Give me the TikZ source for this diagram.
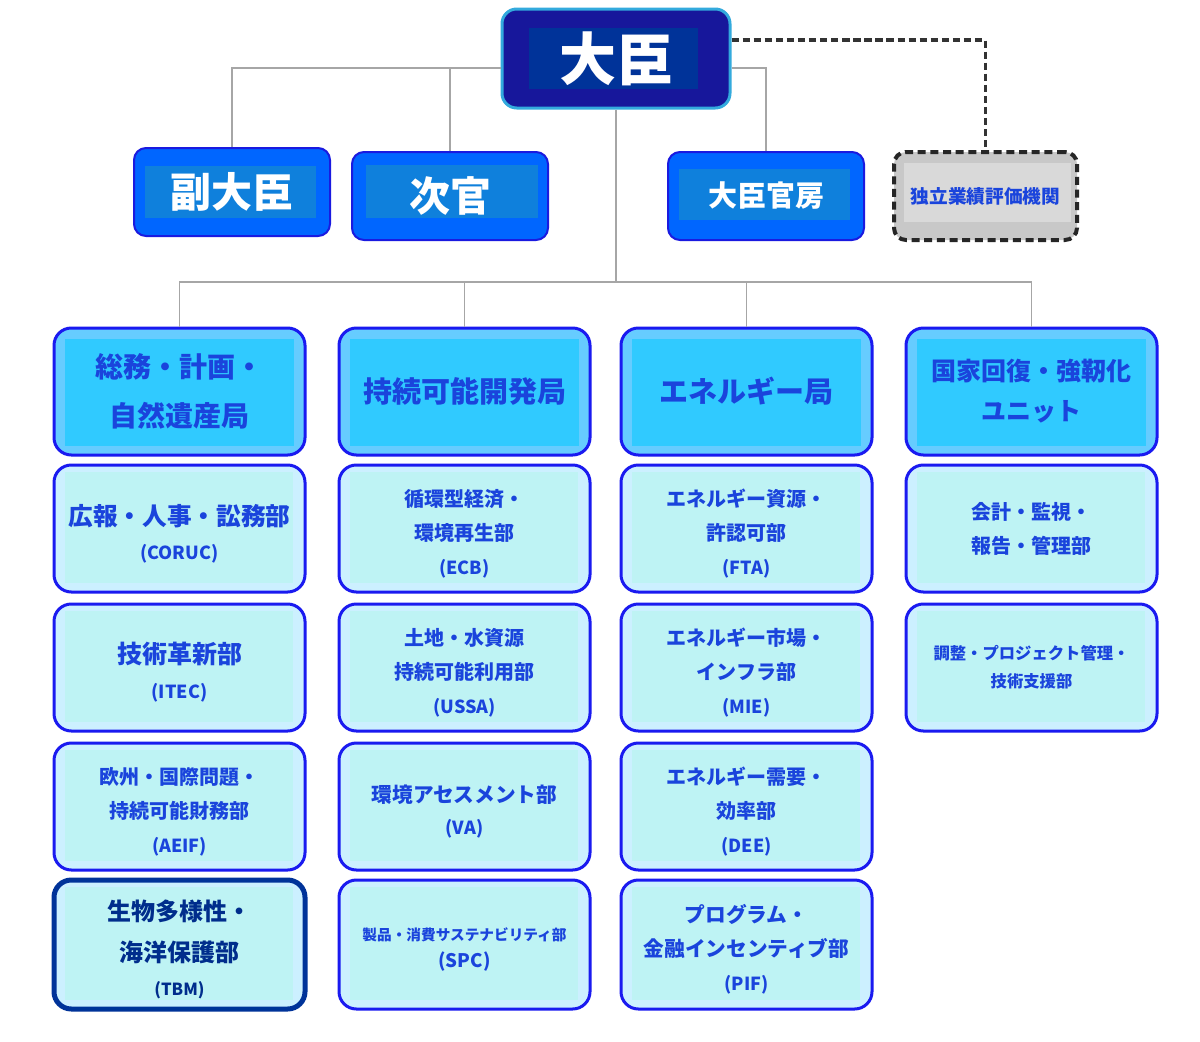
\documentclass[tikz,border=0pt]{standalone}
\usepackage{fontspec}
\newfontfamily\jp{Noto Sans CJK JP}
\definecolor{lineg}{HTML}{A6A6A6}
\definecolor{dashg}{HTML}{333333}
\definecolor{mnfill}{HTML}{17179B}
\definecolor{mninner}{HTML}{003399}
\definecolor{mnline}{HTML}{33AADD}
\definecolor{dfill}{HTML}{0066FF}
\definecolor{dinner}{HTML}{0F80DC}
\definecolor{dline}{HTML}{1A1AE0}
\definecolor{gout}{HTML}{C8C8C8}
\definecolor{gin}{HTML}{D9D9D9}
\definecolor{gline}{HTML}{262626}
\definecolor{hout}{HTML}{66CCFF}
\definecolor{hin}{HTML}{30CAFF}
\definecolor{bline}{HTML}{1A1AF0}
\definecolor{chout}{HTML}{CCF0FF}
\definecolor{chin}{HTML}{BEF3F4}
\definecolor{ctext}{HTML}{1A44DC}
\definecolor{navy}{HTML}{003399}
\definecolor{navytext}{HTML}{002D8C}
\newcommand{\ab}[1]{{\fontsize{13.5}{25.5}\selectfont #1}}
\newcommand{\dn}{\rule{0pt}{\dimexpr 0.88em+7pt\relax}}
\tikzset{
  conn/.style={draw=lineg, line width=1.1pt},
  dconn/.style={draw=dashg, line width=2.7pt, dash pattern=on 5.5pt off 2.8pt},
  inset/.style n args={5}{path picture={\fill[#1, sharp corners] ([xshift=#2,yshift=-#3]path picture bounding box.north west) rectangle ([xshift=-#4,yshift=#5]path picture bounding box.south east);}},
  base/.style={inner sep=0pt, align=center},
  minister/.style={base, rounded corners=11pt, fill=mnfill, draw=mnline, line width=2.25pt,
    minimum width=171pt, minimum height=74.25pt, text=white,
    font={\jp\bfseries\fontsize{42.75}{45}\selectfont}},
  deputy/.style={base, rounded corners=9pt, fill=dfill, draw=dline, line width=1.5pt,
    minimum width=147pt, minimum height=66pt, text=white},
  indep/.style={base, rounded corners=9pt, fill=gout, draw=gline, line width=3pt,
    dash pattern=on 6pt off 3.5pt, minimum width=137.25pt, minimum height=66pt, text=ctext,
    font={\jp\bfseries\fontsize{14}{16}\selectfont}, inset={gin}{7.5pt}{8pt}{4.5pt}{13.5pt}},
  head/.style={base, rounded corners=13pt, fill=hout, draw=bline, line width=2.25pt,
    minimum width=188.25pt, minimum height=95.25pt, text=ctext, inset={hin}{8pt}{8pt}{8pt}{7pt}},
  unit/.style={base, rounded corners=13pt, fill=chout, draw=bline, line width=2.25pt,
    minimum width=188.25pt, minimum height=95.25pt, text=ctext, inset={chin}{8pt}{5pt}{9pt}{7pt},
    font={\jp\bfseries\fontsize{15}{25.5}\selectfont}},
  lastunit/.style={unit, minimum height=96.75pt},
}
\begin{document}
\begin{tikzpicture}[x=0.75pt, y=-0.75pt]
\useasboundingbox[fill=white] (0,0) rectangle (1200,1042);

% top level
\node[minister, inset={mninner}{20pt}{14pt}{24pt}{14pt}] (mn) at (616,58.5) {大臣};
\node[deputy, inset={dinner}{8pt}{13.5pt}{10.5pt}{13.5pt}, font={\jp\bfseries\fontsize{30.75}{32}\selectfont}] (d1) at (232,192) {副大臣};
\node[deputy, inset={dinner}{10.5pt}{10pt}{7.5pt}{16.5pt}, font={\jp\bfseries\fontsize{30.75}{32}\selectfont}] (d2) at (450,196) {次官};
\node[deputy, inset={dinner}{8pt}{12.75pt}{10.5pt}{15pt}, font={\jp\bfseries\fontsize{21.75}{24}\selectfont}] (d3) at (766,196) {大臣官房};
\node[indep] (d4) at (985.5,196) {独立業績評価機関};

% column heads
\node[head, font={\jp\bfseries\fontsize{21}{36.75}\selectfont}] (h1) at (179.5,391.5) {総務・計画・\\自然遺産局};
\node[head, font={\jp\bfseries\fontsize{21.75}{24}\selectfont}] (h2) at (464.5,391.5) {持続可能開発局};
\node[head, font={\jp\bfseries\fontsize{21.75}{24}\selectfont}] (h3) at (746.5,391.5) {エネルギー局};
\node[head, font={\jp\bfseries\fontsize{18.75}{30}\selectfont}] (h4) at (1031.5,391.5) {国家回復・強靭化\\ユニット};

% column 1
\node[unit, font={\jp\bfseries\fontsize{18.5}{25.5}\selectfont}] (a1) at (179.5,528.5) {\dn 広報・人事・訟務部\\\ab{(CORUC)}};
\node[unit, font={\jp\bfseries\fontsize{18.75}{26}\selectfont}] (a2) at (179.5,667.5) {\dn 技術革新部\\\ab{(ITEC)}};
\node[unit] (a3) at (179.5,806.5) {\dn 欧州・国際問題・\\持続可能財務部\\\ab{(AEIF)}};
\node[lastunit, draw=navy, line width=3.75pt, text=navytext, font={\jp\bfseries\fontsize{18}{30.75}\selectfont}] (a4) at (179.5,944.5) {\dn 生物多様性・\\海洋保護部\\[-5pt]{\fontsize{12.5}{25}\selectfont (TBM)}};

% column 2
\node[unit] (b1) at (464.5,528.5) {\dn 循環型経済・\\環境再生部\\\ab{(ECB)}};
\node[unit] (b2) at (464.5,667.5) {\dn 土地・水資源\\持続可能利用部\\\ab{(USSA)}};
\node[unit, font={\jp\bfseries\fontsize{15.5}{24}\selectfont}] (b3) at (464.5,806.5) {\dn 環境アセスメント部\\\ab{(VA)}};
\node[lastunit, font={\jp\bfseries\fontsize{11}{20}\selectfont}] (b4) at (464.5,944.5) {\dn 製品・消費サステナビリティ部\\{\fontsize{14}{20}\selectfont (SPC)}};

% column 3
\node[unit] (c1) at (746.5,528.5) {\dn エネルギー資源・\\許認可部\\\ab{(FTA)}};
\node[unit] (c2) at (746.5,667.5) {\dn エネルギー市場・\\インフラ部\\\ab{(MIE)}};
\node[unit] (c3) at (746.5,806.5) {\dn エネルギー需要・\\効率部\\\ab{(DEE)}};
\node[lastunit, font={\jp\bfseries\fontsize{15.5}{25.5}\selectfont}] (c4) at (746.5,944.5) {\dn プログラム・\\金融インセンティブ部\\\ab{(PIF)}};

% column 4
\node[unit] (e1) at (1031.5,528.5) {会計・監視・\\報告・管理部};
\node[unit, font={\jp\bfseries\fontsize{12.25}{21}\selectfont}] (e2) at (1031.5,667.5) {調整・プロジェクト管理・\\技術支援部};

% connectors
\coordinate (mL) at ([yshift=-7.1pt]mn.west);
\coordinate (bus) at (616,282);
\draw[conn] (mL) -| (d1.north);
\draw[conn] (d2.north) -- (d2.north |- mL);
\draw[conn] ([yshift=-7.1pt]mn.east) -| (d3.north);
\draw[dconn] ([yshift=13.9pt]mn.east) -| (d4.north);
\draw[conn] (mn.south) -- (bus);
\draw[conn] (h1.north) |- (bus) -| (h4.north);
\draw[conn] (h2.north) -- (h2.north |- bus);
\draw[conn] (h3.north) -- (h3.north |- bus);
\end{tikzpicture}
\end{document}
